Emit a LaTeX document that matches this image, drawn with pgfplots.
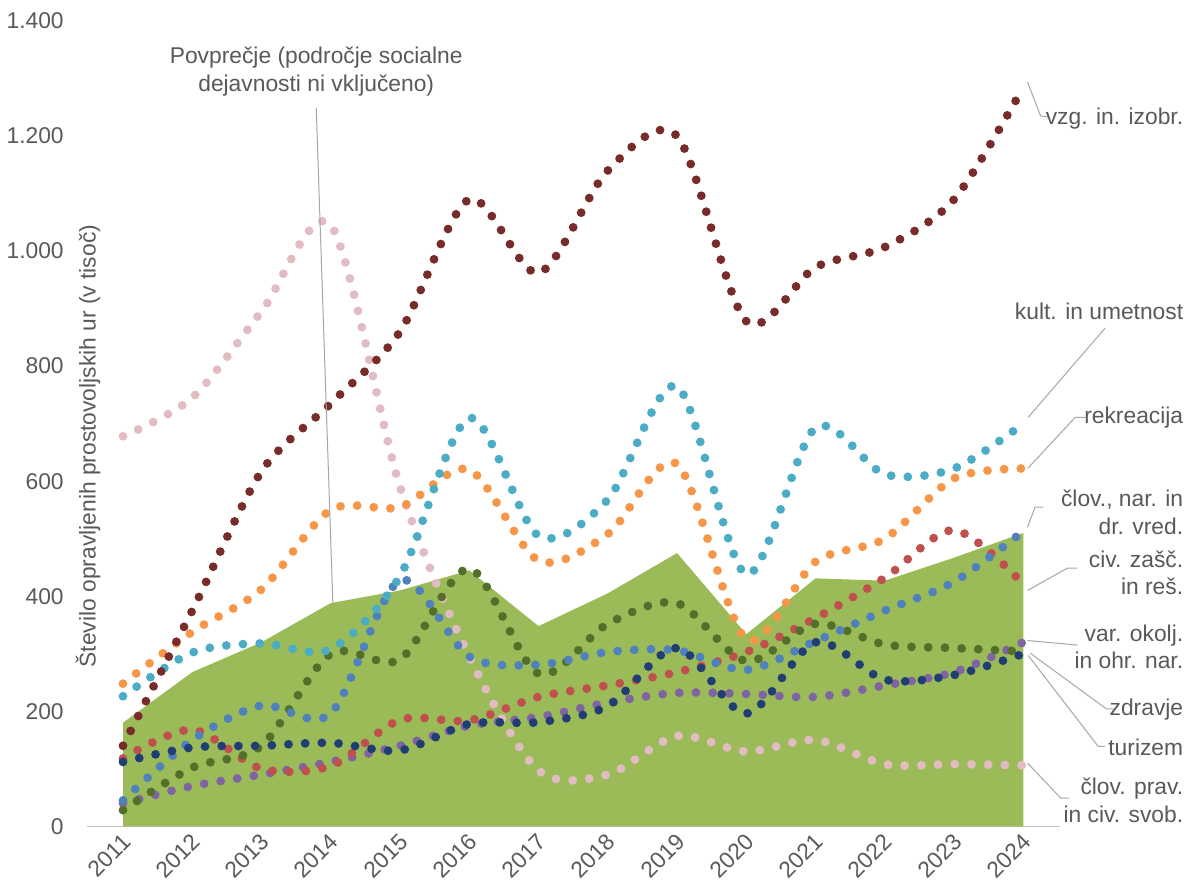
\documentclass[border=0pt]{standalone}
\usepackage{pgfplots}
\pgfplotsset{compat=1.18}
\usepackage{fontspec}
\setmainfont{Liberation Sans}

\definecolor{txt}{HTML}{595959}
\definecolor{lead}{HTML}{A6A6A6}
\definecolor{avg}{HTML}{9BBB59}
\definecolor{cvzg}{HTML}{772C2A}
\definecolor{ckult}{HTML}{4BACC6}
\definecolor{crekr}{HTML}{F79646}
\definecolor{cnar}{HTML}{4F81BD}
\definecolor{cciv}{HTML}{C0504D}
\definecolor{cokol}{HTML}{8064A2}
\definecolor{czdr}{HTML}{52702A}
\definecolor{ctur}{HTML}{203E73}
\definecolor{cprav}{HTML}{E2BCC2}

\newcommand{\lf}{\fontsize{11.4}{13.7}\selectfont}

\begin{document}
\begin{tikzpicture}
\begin{axis}[
  scale only axis, width=486.35pt, height=402.5pt,
  xmin=2010.48, xmax=2024.53, ymin=0, ymax=1400,
  clip=false,
  axis lines=left, axis line style={-},
  y axis line style={draw=none},
  x axis line style={draw=lead!70, line width=0.6pt},
  tick style={draw=none},
  xtick={2011,...,2024}, ytick={0,200,...,1400},
  scaled y ticks=false,
  /pgf/number format/assume math mode=true,
  /pgf/number format/1000 sep={.},
  tick label style={font=\lf, text=txt},
  x tick label style={/pgf/number format/1000 sep=, rotate=45, anchor=east, xshift=2pt, yshift=-4pt},
  y tick label style={xshift=-6pt},
  dots/.style={smooth, tension=0.5, line width=4.4pt, line cap=round, dash pattern=on 0pt off 8.35pt},
]
% Povprecje (obmocje)
\addplot[fill=avg, draw=none] coordinates {
 (2011,0) (2011,180) (2012,268) (2013,320) (2014,388) (2015,410) (2016,445) (2017,348)
 (2018,405) (2019,475) (2020,334) (2021,431) (2022,427) (2023,467) (2024,510) (2024,0)} -- cycle;

% clov. prav. in civ. svob.
\addplot[dots, cprav] coordinates {
 (2011,678) (2012,745) (2013,895) (2014,1045) (2015,590) (2016,295) (2017,97)
 (2018,90) (2019,157) (2020,130) (2021,150) (2022,108) (2023,108) (2024,106)};
% var. okolj. in ohr. nar.
\addplot[dots, cokol] coordinates {
 (2011,40) (2012,70) (2013,90) (2014,112) (2015,140) (2016,175) (2017,190)
 (2018,215) (2019,232) (2020,230) (2021,225) (2022,245) (2023,268) (2024,320)};
% civ. zasc. in res.
\addplot[dots, cciv] coordinates {
 (2011,118) (2012,168) (2013,100) (2014,105) (2015,185) (2016,184) (2017,225)
 (2018,245) (2019,268) (2020,303) (2021,362) (2022,432) (2023,515) (2024,421)};
% zdravje
\addplot[dots, czdr] coordinates {
 (2011,28) (2012,102) (2013,140) (2014,300) (2015,290) (2016,448) (2017,265)
 (2018,352) (2019,388) (2020,287) (2021,352) (2022,316) (2023,310) (2024,304)};
% clov., nar. in dr. vred.
\addplot[dots, cnar] coordinates {
 (2011,45) (2012,150) (2013,210) (2014,196) (2015,428) (2016,295) (2017,281)
 (2018,303) (2019,306) (2020,272) (2021,322) (2022,375) (2023,425) (2024,513)};
% turizem
\addplot[dots, ctur] coordinates {
 (2011,112) (2012,137) (2013,140) (2014,145) (2015,132) (2016,178) (2017,181)
 (2018,209) (2019,310) (2020,196) (2021,320) (2022,255) (2023,263) (2024,300)};
% rekreacija
\addplot[dots, crekr] coordinates {
 (2011,248) (2012,338) (2013,412) (2014,550) (2015,555) (2016,620) (2017,462)
 (2018,508) (2019,630) (2020,325) (2021,460) (2022,500) (2023,605) (2024,622)};
% kult. in umetnost
\addplot[dots, ckult] coordinates {
 (2011,226) (2012,302) (2013,318) (2014,308) (2015,435) (2016,710) (2017,505)
 (2018,568) (2019,765) (2020,438) (2021,693) (2022,612) (2023,622) (2024,700)};
% vzg. in izobr.
\addplot[dots, cvzg] coordinates {
 (2011,140) (2012,375) (2013,617) (2014,735) (2015,860) (2016,1090) (2017,962)
 (2018,1140) (2019,1200) (2020,878) (2021,972) (2022,1007) (2023,1090) (2024,1285)};

% os y
\node[rotate=90, font=\lf, text=txt] at (axis cs:2010.494,661)
  {Število opravljenih prostovoljskih ur (v tisoč)};

% povprecje
\draw[lead, line width=0.5pt] (axis cs:2013.79,1249) -- (axis cs:2014.03,388);
\node[font=\lf, text=txt, align=center] at (axis cs:2013.79,1312)
  {Povprečje (področje socialne\\dejavnosti ni vključeno)};

% oznake serij
\begin{scope}[every node/.style={font=\lf, text=txt, align=right, anchor=east}]
\draw[lead, line width=0.5pt] (axis cs:2024.06,1294) -- (axis cs:2024.25,1235) -- (axis cs:2024.36,1233);
\node at (axis cs:2026.41,1230) {vzg. in. izobr.};

\draw[lead, line width=0.5pt] (axis cs:2024.07,711) -- (axis cs:2025.18,866);
\node at (axis cs:2026.41,895) {kult. in umetnost};

\draw[lead, line width=0.5pt] (axis cs:2024.07,623) -- (axis cs:2024.75,711) -- (axis cs:2024.90,711);
\node at (axis cs:2026.41,710) {rekreacija};

\draw[lead, line width=0.5pt] (axis cs:2024.06,520) -- (axis cs:2024.17,555) -- (axis cs:2024.29,555);
\node at (axis cs:2026.41,546) {člov., nar. in\\dr. vred.};

\draw[lead, line width=0.5pt] (axis cs:2024.06,410) -- (axis cs:2024.64,449) -- (axis cs:2024.78,449);
\node at (axis cs:2026.41,441) {civ. zašč.\\in reš.};

\draw[lead, line width=0.5pt] (axis cs:2024.06,323) -- (axis cs:2024.78,315);
\node at (axis cs:2026.41,312) {var. okolj.\\in ohr. nar.};

\draw[lead, line width=0.5pt] (axis cs:2024.10,301) -- (axis cs:2025.20,204) -- (axis cs:2025.30,204);
\node at (axis cs:2026.41,202) {zdravje};

\draw[lead, line width=0.5pt] (axis cs:2024.07,297) -- (axis cs:2025.08,139) -- (axis cs:2025.18,139);
\node at (axis cs:2026.41,137) {turizem};

\draw[lead, line width=0.5pt] (axis cs:2024.06,110) -- (axis cs:2024.54,49) -- (axis cs:2024.66,49);
\node at (axis cs:2026.41,45) {člov. prav.\\in civ. svob.};
\end{scope}

\coordinate (bbll) at (rel axis cs:-0.0894,-0.0820);
\coordinate (bbur) at (rel axis cs:1.1387,1.0261);
\end{axis}
\pgfresetboundingbox
\path[use as bounding box] (bbll) rectangle (bbur);
\end{tikzpicture}
\end{document}
